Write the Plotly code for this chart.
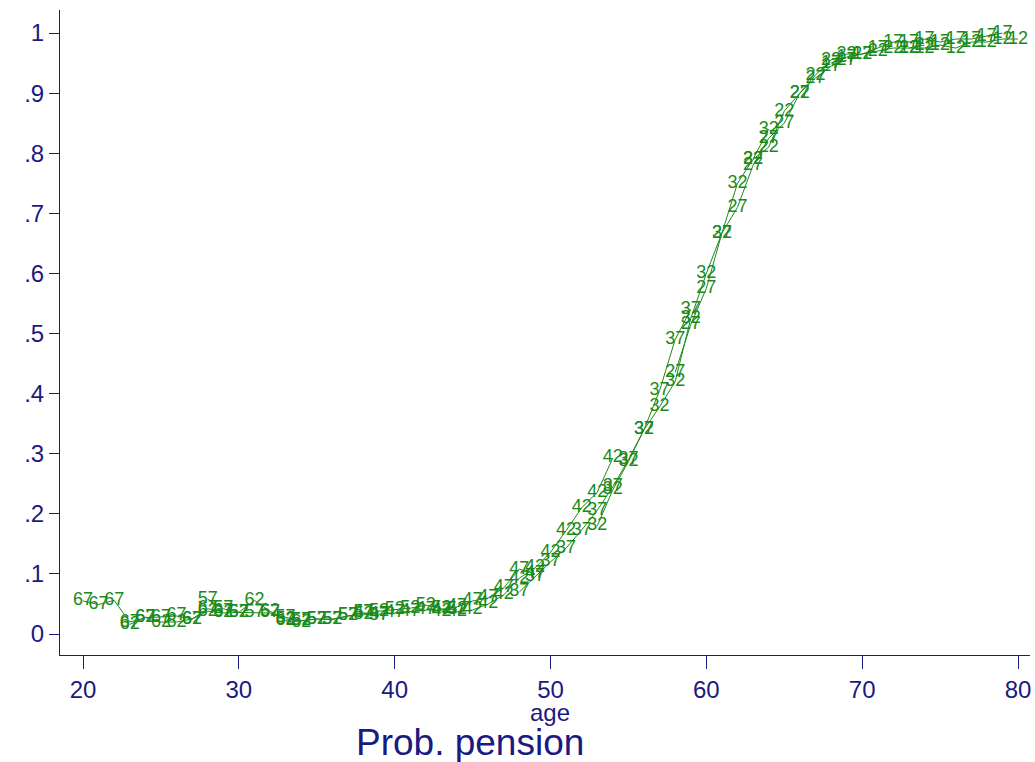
import plotly.graph_objects as go

# cohort labels and first age observed
cohorts = ["67", "62", "57", "52", "47", "42", "37", "32", "27", "22", "17", "12"]
first_age = [20, 23, 28, 33, 38, 43, 48, 53, 58, 63, 68, 73]

p67 = [0.055, 0.049, 0.056, 0.020, 0.027, 0.028, 0.030, 0.025, 0.042, 0.038]
p62 = [0.016, 0.028, 0.020, 0.020, 0.025, 0.038, 0.035, 0.036, 0.056, 0.038, 0.022, 0.020]
p57 = [0.058, 0.042, 0.036, 0.036, 0.035, 0.028, 0.022, 0.025, 0.024, 0.030, 0.035, 0.030]
p52 = [0.025, 0.022, 0.025, 0.025, 0.030, 0.032, 0.038, 0.040, 0.043, 0.048, 0.042, 0.040]
p47 = [0.035, 0.033, 0.035, 0.037, 0.040, 0.040, 0.045, 0.055, 0.060, 0.077, 0.108, 0.100]
p42 = [0.038, 0.037, 0.040, 0.050, 0.065, 0.093, 0.110, 0.136, 0.172, 0.210, 0.236, 0.293]
p37 = [0.070, 0.095, 0.120, 0.143, 0.173, 0.206, 0.245, 0.290, 0.340, 0.405, 0.490, 0.540]
p32 = [0.180, 0.240, 0.287, 0.340, 0.378, 0.420, 0.525, 0.600, 0.667, 0.750, 0.790, 0.840]
p27 = [0.435, 0.515, 0.575, 0.667, 0.710, 0.780, 0.825, 0.850, 0.900, 0.925, 0.945, 0.955]
p22 = [0.790, 0.810, 0.870, 0.900, 0.930, 0.955, 0.965, 0.965, 0.970, 0.975, 0.975, 0.980]
p17 = [0.950, 0.960, 0.965, 0.975, 0.985, 0.985, 0.990, 0.985, 0.990, 0.990, 0.995, 1.000]
p12 = [0.975, 0.975, 0.980, 0.975, 0.985, 0.985, 0.990, 0.990]
series = [p67, p62, p57, p52, p47, p42, p37, p32, p27, p22, p17, p12]

y_ticks = [0, 0.1, 0.2, 0.3, 0.4, 0.5, 0.6, 0.7, 0.8, 0.9, 1]
y_ticktext = ["0", ".1", ".2", ".3", ".4", ".5", ".6", ".7", ".8", ".9", "1"]
x_ticks = [20, 30, 40, 50, 60, 70, 80]

GREEN = "#1a8a1a"
NAVY = "#1a1a80"
FONT = "Liberation Sans, Arial, sans-serif"

L, R, T, B = 60, 5, 10, 107
W = 1035 - L - R
H = 762 - T - B

fig = go.Figure()
for lab, a0, vals in zip(cohorts, first_age, series):
    ages = list(range(a0, a0 + len(vals)))
    fig.add_trace(go.Scatter(
        x=ages, y=vals, mode="lines+text",
        text=[lab] * len(vals), textposition="middle center",
        textfont=dict(family=FONT, size=18, color=GREEN),
        line=dict(color=GREEN, width=1),
        showlegend=False, hoverinfo="x+y+text",
    ))

fig.update_layout(
    width=1035, height=762,
    margin=dict(l=L, r=R, t=T, b=B),
    paper_bgcolor="white", plot_bgcolor="white",
    font=dict(family=FONT, color=NAVY),
    xaxis=dict(
        range=[18.524, 80.77], tickvals=x_ticks, showgrid=False, zeroline=False,
        showline=True, linecolor=NAVY, linewidth=1,
        ticks="outside", ticklen=13, tickcolor=NAVY, tickwidth=1,
        tickfont=dict(size=24, color=NAVY),
    ),
    yaxis=dict(
        range=[-0.0349, 1.0383], tickvals=y_ticks, ticktext=y_ticktext,
        showgrid=False, zeroline=False,
        showline=True, linecolor=NAVY, linewidth=1,
        ticks="outside", ticklen=10, tickcolor=NAVY, tickwidth=1,
        tickfont=dict(size=24, color=NAVY),
    ),
    annotations=[
        dict(text="age", xref="paper", yref="paper",
             x=(550 - L) / W, y=-(712 - (762 - B)) / H, xanchor="center", yanchor="middle",
             showarrow=False, font=dict(size=24, color=NAVY, family=FONT)),
        dict(text="Prob. pension", xref="paper", yref="paper",
             x=(470 - L) / W, y=-(742 - (762 - B)) / H, xanchor="center", yanchor="middle",
             showarrow=False, font=dict(size=37, color=NAVY, family=FONT)),
    ],
)

fig.write_html("out.html", config={"displayModeBar": False},
               post_script="document.body.style.margin='0';")
